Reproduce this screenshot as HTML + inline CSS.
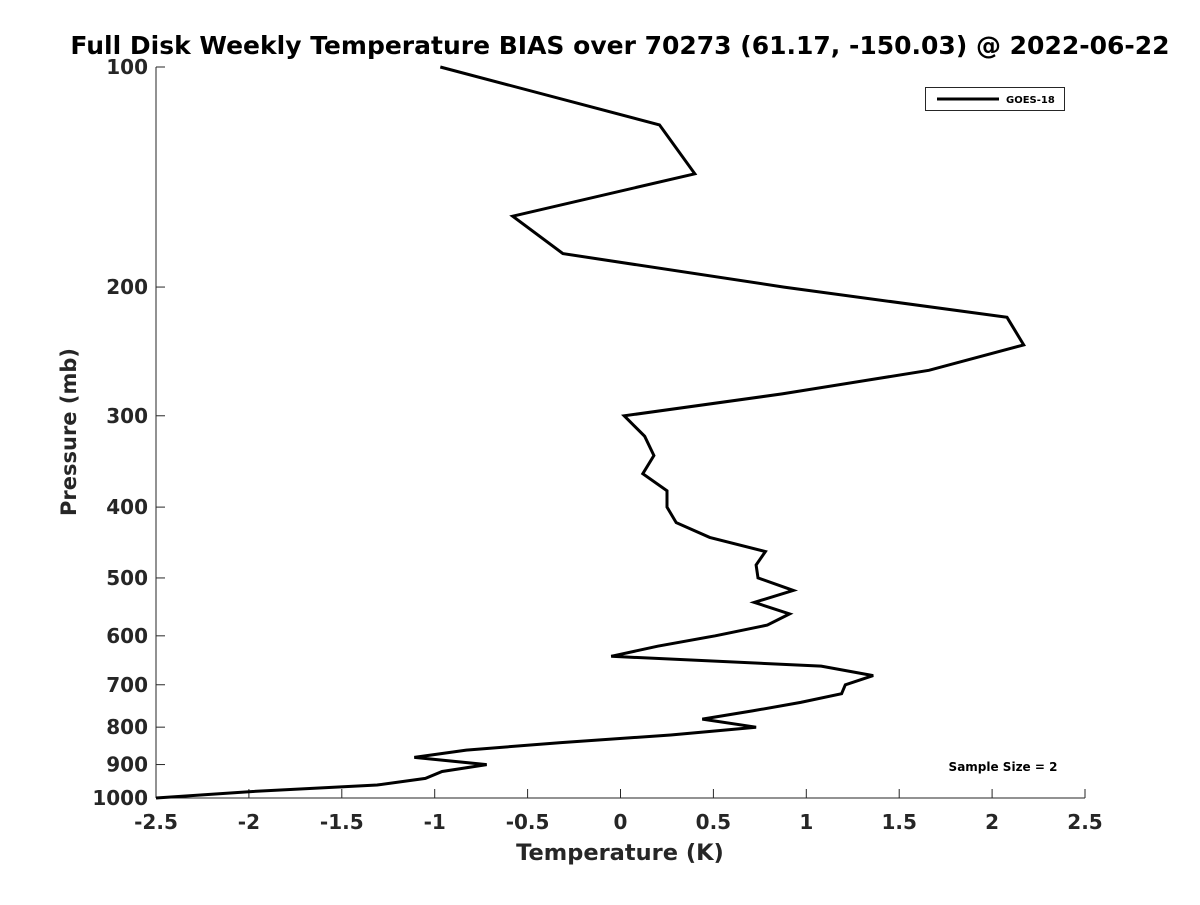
<!DOCTYPE html>
<html><head><meta charset="utf-8"><style>
html,body{margin:0;padding:0;background:#fff;}
svg text{font-family:"DejaVu Sans","Liberation Sans",sans-serif;font-weight:bold;fill:#262626;}
</style></head><body>
<svg id="chart" width="1200" height="900" viewBox="0 0 1200 900" xmlns="http://www.w3.org/2000/svg">
<rect width="1200" height="900" fill="#fff"/>
<text x="620" y="54" text-anchor="middle" font-size="25" style="fill:#000">Full Disk Weekly Temperature BIAS over 70273 (61.17, -150.03) @ 2022-06-22</text>
<g id="axes"></g>
<path id="line" fill="none" stroke="#000" stroke-width="3" stroke-linejoin="miter"/>
<g>
<rect x="925.5" y="87.5" width="139" height="23" fill="#fff" stroke="#262626" stroke-width="1"/>
<line x1="937" y1="99" x2="999" y2="99" stroke="#000" stroke-width="3"/>
<text x="1006" y="103" font-size="10" style="fill:#000">GOES-18</text>
</g>
<text x="1003" y="771" text-anchor="middle" font-size="12" style="fill:#000">Sample Size = 2</text>
<text x="620" y="860" text-anchor="middle" font-size="22.5">Temperature (K)</text>
<text transform="translate(76,432) rotate(-90)" text-anchor="middle" font-size="21">Pressure (mb)</text>
</svg>
<script>
const pressures=[100,120,140,160,180,200,220,240,260,280,300,320,340,360,380,400,420,440,460,480,500,520,540,560,580,600,620,640,660,680,700,720,740,760,780,800,820,840,860,880,900,920,940,960,980,1000];
const bias=[-0.97,0.21,0.40,-0.58,-0.31,0.88,2.08,2.17,1.66,0.87,0.02,0.13,0.18,0.12,0.25,0.25,0.30,0.48,0.78,0.73,0.74,0.93,0.72,0.91,0.79,0.51,0.20,-0.05,1.08,1.36,1.21,1.19,0.97,0.71,0.44,0.73,0.27,-0.32,-0.83,-1.11,-0.72,-0.96,-1.05,-1.31,-1.99,-2.5];
const xTicks=[-2.5,-2,-1.5,-1,-0.5,0,0.5,1,1.5,2,2.5];
const xTickLabels=["-2.5","-2","-1.5","-1","-0.5","0","0.5","1","1.5","2","2.5"];
const yTicks=[100,200,300,400,500,600,700,800,900,1000];
const yTickLabels=["100","200","300","400","500","600","700","800","900","1000"];

const X0=156,X1=1085,Y0=67,Y1=798;
const xs=v=>X0+(v+2.5)/5*(X1-X0);
const ys=p=>Y0+(Math.log10(p)-2)*(Y1-Y0);
const NS="http://www.w3.org/2000/svg";
const axes=document.getElementById('axes');
function mk(tag,attrs){const e=document.createElementNS(NS,tag);for(const k in attrs)e.setAttribute(k,attrs[k]);return e;}
const yl=mk('line',{x1:X0,y1:Y0,x2:X0,y2:Y1,stroke:'#262626','stroke-width':1});


axes.appendChild(yl);
const xl=mk('line',{x1:X0,y1:Y1,x2:X1,y2:Y1,stroke:'#262626','stroke-width':1});


axes.appendChild(xl);
xTicks.forEach((v,i)=>{
  const x=xs(v);
  const t=mk('line',{x1:x,y1:Y1,x2:x,y2:Y1-9,stroke:'#262626','stroke-width':1});
  
  
  axes.appendChild(t);
  const l=mk('text',{x:x,y:Y1+31,'text-anchor':'middle','font-size':20});
  
  
  l.textContent=xTickLabels[i];axes.appendChild(l);
});
yTicks.forEach((p,i)=>{
  const y=ys(p);
  const t=mk('line',{x1:X0,y1:y,x2:X0+9,y2:y,stroke:'#262626','stroke-width':1});
  
  
  axes.appendChild(t);
  const l=mk('text',{x:X0-8,y:y+7,'text-anchor':'end','font-size':20});
  
  
  l.textContent=yTickLabels[i];axes.appendChild(l);
});
document.getElementById('line').setAttribute('d',pressures.map((p,i)=>(i?'L':'M')+xs(bias[i]).toFixed(1)+','+ys(p).toFixed(1)).join(''));
</script>
</body></html>
